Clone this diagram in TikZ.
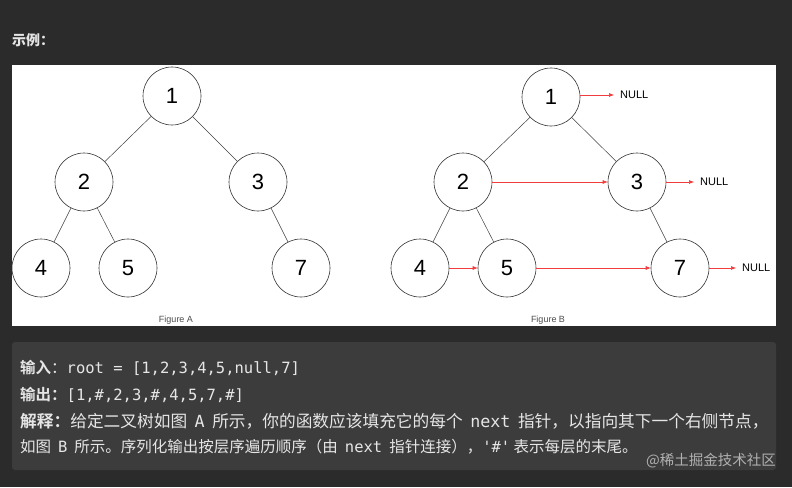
\documentclass[tikz,border=0pt]{standalone}
\usepackage{fontspec}
\setmainfont{Liberation Sans}
\newfontfamily\cjk{Noto Sans CJK SC}
\newfontfamily\cjkb{Noto Sans CJK SC}[BoldFont={* Bold}]
\setmonofont{DejaVu Sans Mono}
\usetikzlibrary{arrows.meta}
\definecolor{bg}{HTML}{2B2B2B}
\definecolor{box}{HTML}{3C3C3C}
\definecolor{txt}{HTML}{E6E6E6}
\definecolor{arr}{HTML}{F03C3C}
\newcommand\cd[1]{\hspace{0.45em}\texttt{#1}\hspace{0.45em}}
\begin{document}
\begin{tikzpicture}[x=1pt,y=-1pt,
  tn/.style={circle,draw=black!80,line width=0.6pt,fill=white,minimum size=58pt,inner sep=0pt,font=\fontsize{22}{24}\selectfont},
  edge/.style={draw=black!75,line width=0.5pt},
  nx/.style={draw=arr,line width=0.6pt,-{Latex[length=5pt,width=4pt]}},
  nul/.style={font=\fontsize{11}{12}\selectfont,anchor=west,inner sep=0pt},
  line/.style={anchor=west,inner sep=0pt,text=txt,font=\cjk\fontsize{15.5}{18}\selectfont},
  lineb/.style={line,font=\cjk\fontsize{16.7}{19}\selectfont}]
\fill[bg] (0,0) rectangle (792,487);
\useasboundingbox (0,0) rectangle (792,487);
\node[anchor=west,inner sep=0pt,text=txt,font=\cjk\bfseries\fontsize{14}{16}\selectfont] (title) at (12,40) {示例：};
\fill[white] (12,65) rectangle (776,326);
\fill[box,rounded corners=3pt] (12,342) rectangle (776,470);
% Figure A
\node[tn] (a1) at (172,96) {1};
\node[tn] (a2) at (84,182) {2};
\node[tn] (a3) at (258,182) {3};
\node[tn] (a4) at (41,268) {4};
\node[tn] (a5) at (128,268) {5};
\node[tn] (a7) at (301,268) {7};
\draw[edge] (a1)--(a2); \draw[edge] (a1)--(a3);
\draw[edge] (a2)--(a4); \draw[edge] (a2)--(a5);
\draw[edge] (a3)--(a7);
\node[font=\fontsize{9}{10}\selectfont,text=black!70] (fa) at (176,320) {Figure A};
% Figure B
\node[tn] (b1) at (551,97) {1};
\node[tn] (b2) at (463,182) {2};
\node[tn] (b3) at (637,182) {3};
\node[tn] (b4) at (420,268) {4};
\node[tn] (b5) at (507,268) {5};
\node[tn] (b7) at (680,268) {7};
\draw[edge] (b1)--(b2); \draw[edge] (b1)--(b3);
\draw[edge] (b2)--(b4); \draw[edge] (b2)--(b5);
\draw[edge] (b3)--(b7);
\node[nul] (n1) at (620,95) {NULL};
\node[nul] (n3) at (700,182) {NULL};
\node[nul] (n7) at (742,268) {NULL};
\draw[nx] (b1.east |- n1.west) -- ([xshift=-6pt]n1.west);
\draw[nx] (b2.east) -- (b3.west);
\draw[nx] (b3.east) -- ([xshift=-6pt]n3.west);
\draw[nx] (b4.east) -- (b5.west);
\draw[nx] (b5.east) -- (b7.west);
\draw[nx] (b7.east) -- ([xshift=-6pt]n7.west);
\node[font=\fontsize{9}{10}\selectfont,text=black!70] (fb) at (548,320) {Figure B};
% text
\node[line] (l1) at (20,368) {{\cjkb\bfseries 输入}：\texttt{root = [1,2,3,4,5,null,7]}};
\node[line] (l2) at (20,395) {{\cjkb\bfseries 输出：}\texttt{[1,\#,2,3,\#,4,5,7,\#]}};
\node[lineb] (l3) at (20,421) {{\cjkb\bfseries 解释：}给定二叉树如图\cd{A}所示，你的函数应该填充它的每个\cd{next}指针，以指向其下一个右侧节点，};
\node[line] (l4) at (20,447) {如图\cd{B}所示。序列化输出按层序遍历顺序（由\cd{next}指针连接），\texttt{'\#'} 表示每层的末尾。};
\node[anchor=east,inner sep=0pt,text=white!60!box,font=\cjk\fontsize{14.5}{17}\selectfont] (wm) at (776,461) {@稀土掘金技术社区};
\end{tikzpicture}
\end{document}
